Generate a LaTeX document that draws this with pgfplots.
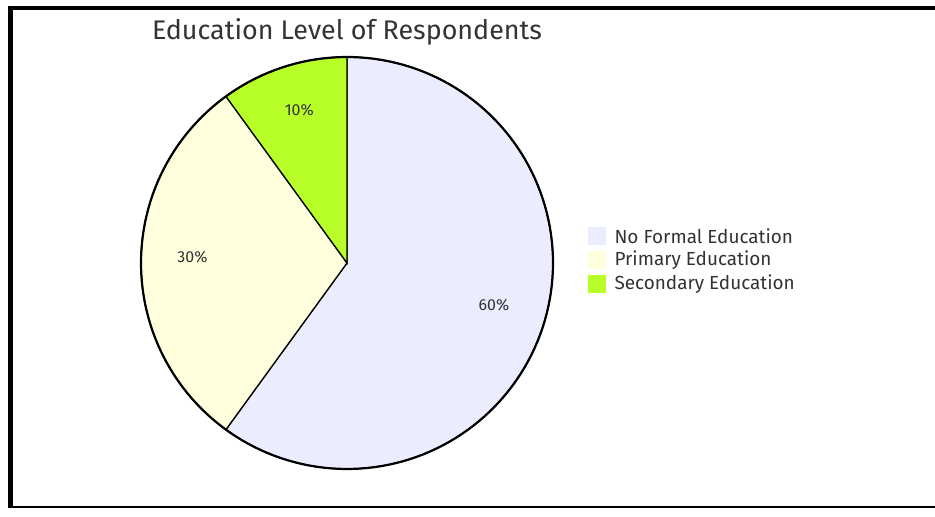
\documentclass[border=0pt]{standalone}
\usepackage{pgfplots}
\usepackage{pgfplotstable}
\pgfplotsset{compat=1.18}
\usepackage{fontspec}
\setmainfont{Fira Sans}
\definecolor{pieA}{HTML}{ECECFF}
\definecolor{pieB}{HTML}{FFFFDE}
\definecolor{pieC}{HTML}{B8FF2A}
\definecolor{txt}{HTML}{333333}

\pgfplotstableread{
value
60
30
10
}\piedata
\pgfplotstablegetelem{0}{value}\of\piedata \let\va\pgfplotsretval
\pgfplotstablegetelem{1}{value}\of\piedata \let\vb\pgfplotsretval
\pgfplotstablegetelem{2}{value}\of\piedata \let\vc\pgfplotsretval
\pgfmathsetmacro\aA{90}
\pgfmathsetmacro\aB{\aA-3.6*\va}
\pgfmathsetmacro\aC{\aB-3.6*\vb}
\pgfmathsetmacro\aD{\aC-3.6*\vc}
\pgfmathsetmacro\mA{(\aA+\aB)/2}
\pgfmathsetmacro\mB{(\aB+\aC)/2}
\pgfmathsetmacro\mC{(\aC+\aD)/2}
\def\cx{347}
\def\cy{254}
\def\R{206}
\def\Rl{154.5}

\begin{document}
\begin{tikzpicture}
\begin{axis}[width=935bp, height=517bp, scale only axis,
  xmin=0, xmax=935, ymin=0, ymax=517, axis lines=none, clip=false]
% full canvas for bounding box
\path (axis cs:0,0) rectangle (axis cs:935,517);
% frame
\fill[black] (axis cs:8,9) rectangle (axis cs:13,511);
\fill[black] (axis cs:8,506.5) rectangle (axis cs:935,511);
\fill[black] (axis cs:8,9) rectangle (axis cs:935,11);
% wedges
\addplot[fill=pieA, draw=black, line width=1.3bp, domain=\aB:\aA, samples=90, variable=\t]
  ({\cx+\R*cos(t)}, {\cy+\R*sin(t)}) -- (axis cs:\cx,\cy) -- cycle;
\addplot[fill=pieB, draw=black, line width=1.3bp, domain=\aC:\aB, samples=60, variable=\t]
  ({\cx+\R*cos(t)}, {\cy+\R*sin(t)}) -- (axis cs:\cx,\cy) -- cycle;
\addplot[fill=pieC, draw=black, line width=1.3bp, domain=\aD:\aC, samples=30, variable=\t]
  ({\cx+\R*cos(t)}, {\cy+\R*sin(t)}) -- (axis cs:\cx,\cy) -- cycle;
% outer ring
\addplot[draw=black, line width=2.2bp, domain=0:360, samples=180, variable=\t]
  ({\cx+\R*cos(t)}, {\cy+\R*sin(t)}) -- cycle;
% percent labels
\node[text=txt, font=\fontsize{16}{18}\selectfont] at (axis cs:{\cx+\Rl*cos(\mA)},{\cy+5.5+\Rl*sin(\mA)}) {60\%};
\node[text=txt, font=\fontsize{16}{18}\selectfont] at (axis cs:{\cx+\Rl*cos(\mB)},{\cy+5.5+\Rl*sin(\mB)}) {30\%};
\node[text=txt, font=\fontsize{16}{18}\selectfont] at (axis cs:{\cx+\Rl*cos(\mC)},{\cy+5.5+\Rl*sin(\mC)}) {10\%};
% title
\node[text=txt, font=\fontsize{27}{30}\selectfont] at (axis cs:347,485) {Education Level of Respondents};
% legend
\fill[pieA] (axis cs:588,272) rectangle (axis cs:606,290);
\fill[pieB] (axis cs:588,248) rectangle (axis cs:606,266);
\fill[pieC] (axis cs:588,224) rectangle (axis cs:606,242);
\node[anchor=west, text=txt, font=\fontsize{19}{21}\selectfont] at (axis cs:611,281) {No Formal Education};
\node[anchor=west, text=txt, font=\fontsize{19}{21}\selectfont] at (axis cs:611,257) {Primary Education};
\node[anchor=west, text=txt, font=\fontsize{19}{21}\selectfont] at (axis cs:611,233) {Secondary Education};
\end{axis}
\end{tikzpicture}
\end{document}
